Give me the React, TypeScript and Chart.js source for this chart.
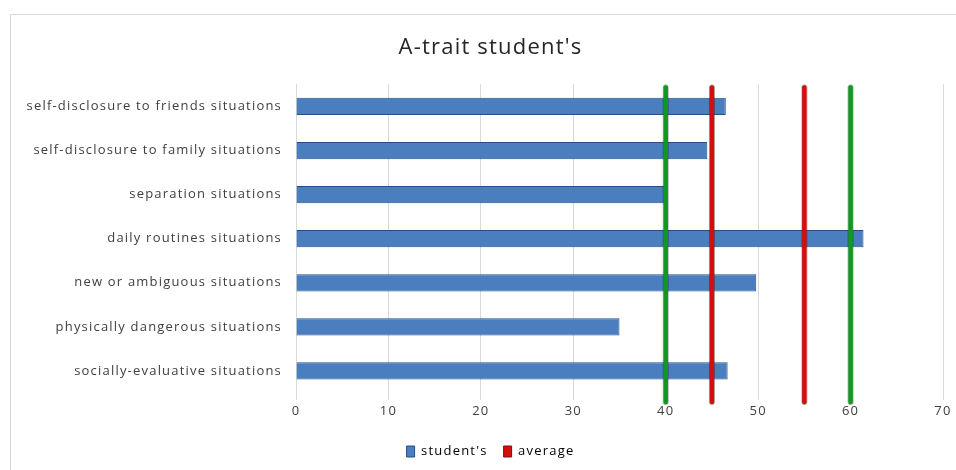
import React, { useEffect, useRef } from "react";
import { Chart, registerables } from "chart.js";

Chart.register(...registerables);

const categories = [
  "self-disclosure to friends situations",
  "self-disclosure to family situations",
  "separation situations",
  "daily routines situations",
  "new or ambiguous situations",
  "physically dangerous situations",
  "socially-evaluative situations",
];
const studentValues = [46.5, 44.5, 40, 61.4, 49.8, 35, 46.7];
const greenLines = [40, 60];
const averageLines = [45, 55];
const xTicks = [0, 10, 20, 30, 40, 50, 60, 70];

const BLUE = "#4a7ebf";
const BLUE_BORDER = "#23508a";
const RED = "#d40d0d";
const GREEN = "#0e9a1e";
const TEXT = "#404040";
const FONT = "'Open Sans', 'Liberation Sans', sans-serif";
const SPACING = "1.2px";

const spacingPlugin = {
  id: "letterSpacing",
  beforeUpdate(chart: any) {
    chart.ctx.letterSpacing = SPACING;
  },
  beforeLayout(chart: any) {
    chart.ctx.letterSpacing = SPACING;
  },
  beforeDraw(chart: any) {
    chart.ctx.letterSpacing = SPACING;
  },
};

const linePlugin = {
  id: "refLines",
  afterDatasetsDraw(chart: any) {
    const { ctx, chartArea, scales } = chart;
    const x = scales.x;
    const top = chartArea.top + 3;
    const bottom = chartArea.bottom + 9;
    const draw = (v: number, color: string) => {
      const px = x.getPixelForValue(v);
      ctx.save();
      ctx.lineCap = "round";
      ctx.strokeStyle = "rgba(0,0,0,0.3)";
      ctx.lineWidth = 6;
      ctx.beginPath();
      ctx.moveTo(px, top);
      ctx.lineTo(px, bottom);
      ctx.stroke();
      ctx.strokeStyle = color;
      ctx.lineWidth = 4.5;
      ctx.beginPath();
      ctx.moveTo(px, top);
      ctx.lineTo(px, bottom);
      ctx.stroke();
      ctx.restore();
    };
    greenLines.forEach((v) => draw(v, GREEN));
    averageLines.forEach((v) => draw(v, RED));
  },
};

export default function App() {
  const ref = useRef<HTMLCanvasElement | null>(null);
  useEffect(() => {
    if (!ref.current) return;
    const chart = new Chart(ref.current, {
      type: "bar",
      data: {
        labels: categories,
        datasets: [
          {
            label: "student's",
            data: studentValues,
            backgroundColor: BLUE,
            borderColor: BLUE_BORDER,
            borderWidth: 1,
            barPercentage: 0.39,
            categoryPercentage: 1,
          },
        ],
      },
      options: {
        indexAxis: "y",
        animation: false,
        responsive: true,
        maintainAspectRatio: false,
        layout: { padding: { left: 38, right: 13, top: 0, bottom: 2 } },
        scales: {
          x: {
            min: 0,
            max: 70,
            afterBuildTicks: (scale: any) => {
              scale.ticks = xTicks.map((v) => ({ value: v }));
            },
            afterFit: (scale: any) => {
              scale.height = 36;
            },
            grid: {
              color: "#d9d9d9",
              lineWidth: 1,
              drawTicks: true,
              tickLength: 7,
            },
            border: { display: false },
            ticks: {
              color: TEXT,
              font: { family: FONT, size: 13 },
              padding: 3,
            },
          },
          y: {
            afterFit: (scale: any) => {
              scale.width = 258;
              scale._computeLabelArea = () => undefined;
            },
            grid: { display: false, drawTicks: false },
            border: { display: true, color: "#d9d9d9" },
            ticks: {
              color: TEXT,
              font: { family: FONT, size: 13 },
              padding: 14,
            },
          },
        },
        plugins: {
          title: {
            display: true,
            text: "A-trait student's",
            color: "#262626",
            font: { family: FONT, size: 22, weight: "normal" },
            padding: { top: 35, bottom: 23 },
          },
          legend: {
            position: "bottom",
            labels: {
              color: TEXT,
              font: { family: FONT, size: 13 },
              boxWidth: 8,
              boxHeight: 11,
              padding: 16,
              generateLabels: () => [
                { text: "student's", fillStyle: BLUE, strokeStyle: BLUE_BORDER, lineWidth: 1, hidden: false, datasetIndex: 0 },
                { text: "average", fillStyle: RED, strokeStyle: "#8a0a0a", lineWidth: 1, hidden: false, datasetIndex: 1 },
              ],
            },
          },
          tooltip: { enabled: false },
        },
      },
      plugins: [spacingPlugin, linePlugin],
    });
    return () => chart.destroy();
  }, []);

  return (
    <div style={{ position: "fixed", left: 0, top: 0, width: 956, height: 470, background: "#fff" }}>
      <div
        style={{
          position: "absolute",
          left: 10,
          top: 14,
          width: 960,
          height: 470,
          borderLeft: "1px solid #d9d9d9",
          borderTop: "1px solid #d9d9d9",
        }}
      />
      <div style={{ position: "absolute", left: 0, top: 0, width: 956, height: 470 }}>
        <canvas ref={ref} />
      </div>
    </div>
  );
}
